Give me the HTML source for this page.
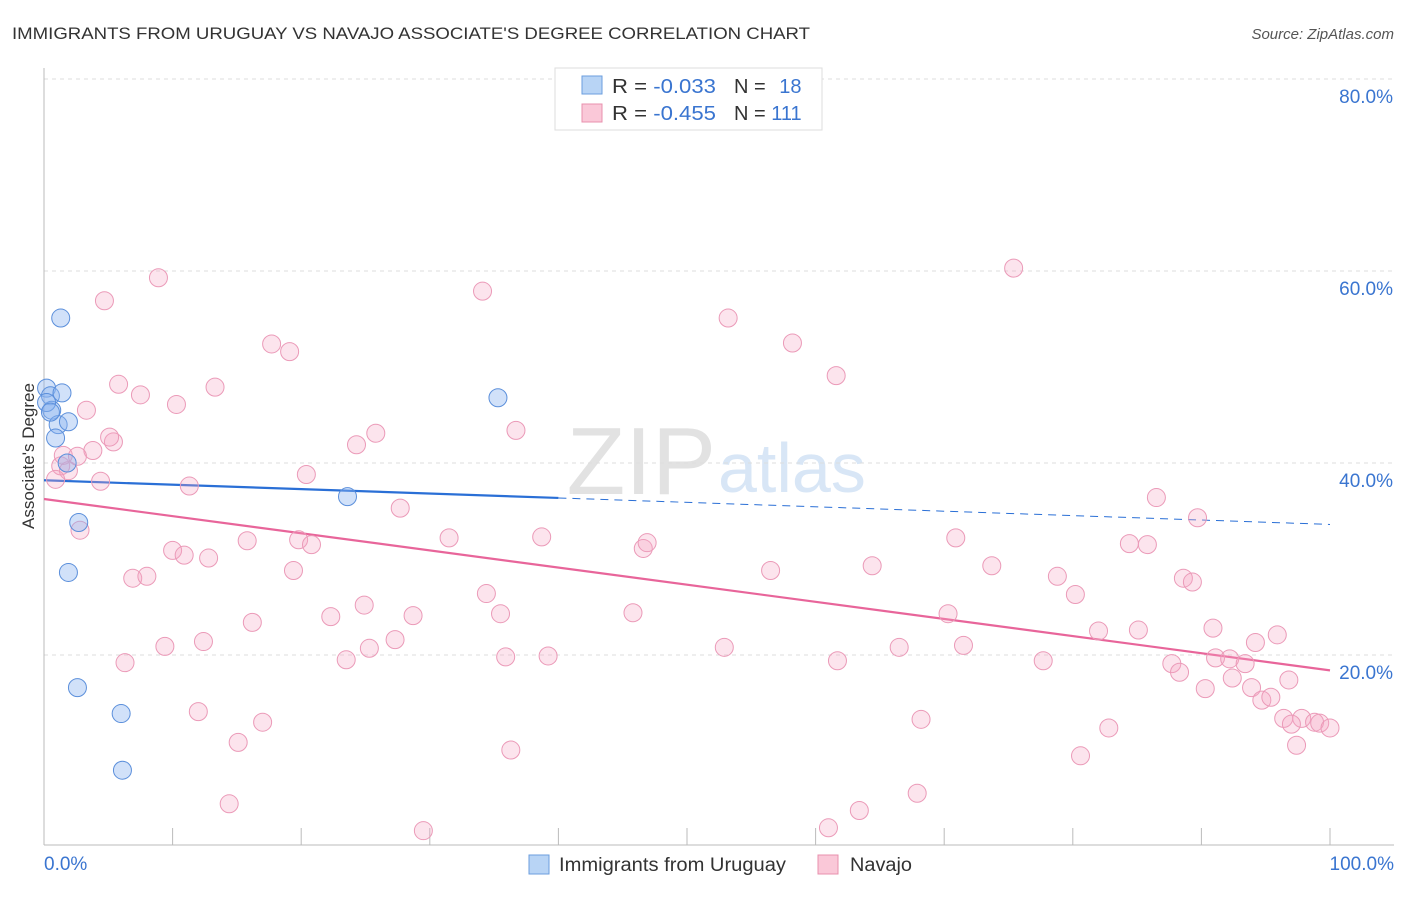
<!DOCTYPE html>
<html><head><meta charset="utf-8"><style>
body{margin:0;background:#fff;font-family:"Liberation Sans",sans-serif}
svg text{font-family:"Liberation Sans",sans-serif}
</style></head><body>
<svg id="chart" width="1406" height="892" xmlns="http://www.w3.org/2000/svg">
<text x="12" y="39" font-size="17" fill="#333" textLength="798" lengthAdjust="spacingAndGlyphs">IMMIGRANTS FROM URUGUAY VS NAVAJO ASSOCIATE'S DEGREE CORRELATION CHART</text>
<text x="1394" y="39" font-size="15" fill="#555" font-style="italic" text-anchor="end">Source: ZipAtlas.com</text>
<text x="716" y="494" font-size="96" fill="#e2e2e2" font-family="Liberation Serif" text-anchor="end">ZIP</text>
<text x="718" y="492" font-size="70" fill="#d8e6f6">atlas</text>
<g id="grid"></g><g id="axes"></g><g id="trends"></g><g id="pts"></g>
<text transform="translate(34,456) rotate(-90)" font-size="17" fill="#333" text-anchor="middle">Associate's Degree</text>
<g>
<rect x="555" y="68" width="267" height="62" fill="#fff" stroke="#ddd"/>
<rect x="582" y="76" width="20" height="18" fill="#b8d4f5" stroke="#6b9ede"/>
<rect x="582" y="104" width="20" height="18" fill="#fac8d8" stroke="#e890ae"/>
<text x="612" y="93" font-size="20" fill="#333" textLength="104" lengthAdjust="spacingAndGlyphs">R = <tspan fill="#3a75d0">-0.033</tspan></text>
<text x="734" y="93" font-size="20" fill="#333">N = <tspan fill="#3a75d0" dx="8">18</tspan></text>
<text x="612" y="120" font-size="20" fill="#333" textLength="104" lengthAdjust="spacingAndGlyphs">R = <tspan fill="#3a75d0">-0.455</tspan></text>
<text x="734" y="120" font-size="20" fill="#333">N = <tspan fill="#3a75d0">111</tspan></text>
</g>
<g>
<rect x="529" y="855" width="20" height="19" fill="#b8d4f5" stroke="#6b9ede"/>
<text x="559" y="871" font-size="19" fill="#333" textLength="227" lengthAdjust="spacingAndGlyphs">Immigrants from Uruguay</text>
<rect x="818" y="855" width="20" height="19" fill="#fac8d8" stroke="#e890ae"/>
<text x="850" y="871" font-size="19" fill="#333" textLength="62" lengthAdjust="spacingAndGlyphs">Navajo</text>
</g>
</svg>
<script>
const blueX=[0.2,0.5,0.6,0.2,1.4,1.1,1.9,0.9,1.8,2.7,1.9,1.3,35.3,23.6,2.6,6.0,6.1,0.5];
const blueY=[47.8,47.0,45.5,46.3,47.3,44.0,44.3,42.6,40.0,33.8,28.6,55.1,46.8,36.5,16.6,13.9,8.0,45.3];
const pinkX=[8.9,4.7,34.1,75.4,53.2,17.7,19.1,58.2,61.6,5.8,13.3,7.5,10.3,3.3,5.4,3.8,1.3,1.9,4.4,0.9,2.8,24.3,25.8,36.7,20.4,11.3,27.7,86.5,89.7,10.0,10.9,12.8,15.8,19.8,20.8,31.5,38.7,46.6,46.9,70.9,84.4,85.8,6.9,8.0,19.4,34.4,56.5,64.4,73.7,78.8,80.2,88.6,89.3,22.3,24.9,28.7,35.5,45.8,70.3,16.2,9.4,12.4,6.3,23.5,25.3,27.3,35.9,39.2,52.9,61.7,66.5,71.5,77.7,82.0,85.1,90.9,94.2,95.9,87.7,88.3,91.1,92.2,93.4,90.3,92.4,93.9,94.7,95.4,96.8,96.4,97.8,98.8,97.0,99.2,100,97.4,12.0,17.0,15.1,68.2,82.8,36.3,80.6,14.4,29.5,61.0,63.4,67.9,1.5,5.1,2.6];
const pinkY=[59.3,56.9,57.9,60.3,55.1,52.4,51.6,52.5,49.1,48.2,47.9,47.1,46.1,45.5,42.2,41.3,39.7,39.2,38.1,38.3,33.0,41.9,43.1,43.4,38.8,37.6,35.3,36.4,34.3,30.9,30.4,30.1,31.9,32.0,31.5,32.2,32.3,31.1,31.7,32.2,31.6,31.5,28.0,28.2,28.8,26.4,28.8,29.3,29.3,28.2,26.3,28.0,27.6,24.0,25.2,24.1,24.3,24.4,24.3,23.4,20.9,21.4,19.2,19.5,20.7,21.6,19.8,19.9,20.8,19.4,20.8,21.0,19.4,22.5,22.6,22.8,21.3,22.1,19.1,18.2,19.7,19.6,19.1,16.5,17.6,16.6,15.3,15.6,17.4,13.4,13.4,13.0,12.8,12.9,12.4,10.6,14.1,13.0,10.9,13.3,12.4,10.1,9.5,4.5,1.7,2.0,3.8,5.6,40.8,42.7,40.7];
const blueTrend=[38.2,33.6];
const pinkTrend=[36.25,18.4];
const yTicks=[20,40,60,80];
const xTickLabels=["0.0%","100.0%"];
const NS="http://www.w3.org/2000/svg";
const X=v=>44+v*12.86, Y=v=>847-v*9.6;
function mk(tag,at,parent){const e=document.createElementNS(NS,tag);for(const k in at)e.setAttribute(k,at[k]);document.getElementById(parent).appendChild(e);return e;}
yTicks.forEach(t=>{
 const l=mk('line',{x1:44,x2:1394,y1:Y(t),y2:Y(t),stroke:'#ddd','stroke-dasharray':'4,4'},'grid');
 
 
 const tx=mk('text',{x:1393,y:Y(t)+24,'font-size':19,fill:'#3a75d0','text-anchor':'end'},'grid');
 tx.textContent=t.toFixed(1)+'%';
 
 
});
mk('line',{x1:44,x2:44,y1:68,y2:845,stroke:'#bbb'},'axes');
mk('line',{x1:44,x2:1394,y1:845,y2:845,stroke:'#bbb'},'axes');
for(let i=0;i<=10;i++){const t=mk('line',{x1:X(i*10),x2:X(i*10),y1:828,y2:845,stroke:'#bbb'},'axes');
 
 }
[[0,'start',44],[100,'end',1394]].forEach((d,i)=>{const t=mk('text',{x:d[2],y:870,'font-size':19,fill:'#3a75d0','text-anchor':d[1]},'axes');t.textContent=xTickLabels[i];
 
 });
const bAt=x=>blueTrend[0]+(blueTrend[1]-blueTrend[0])*x/100;
let tl=mk('line',{x1:X(0),y1:Y(bAt(0)),x2:X(40),y2:Y(bAt(40)),stroke:'#2a6fd6','stroke-width':2.2},'trends');


tl=mk('line',{x1:X(40),y1:Y(bAt(40)),x2:X(100),y2:Y(bAt(100)),stroke:'#2a6fd6','stroke-width':1,'stroke-dasharray':'8,6'},'trends');


tl=mk('line',{x1:X(0),y1:Y(pinkTrend[0]),x2:X(100),y2:Y(pinkTrend[1]),stroke:'#e8659a','stroke-width':2.2},'trends');


pinkX.forEach((x,i)=>{const c=mk('circle',{cx:X(x),cy:Y(pinkY[i]),r:9,fill:'rgba(245,165,195,0.3)',stroke:'#eb9ab8','stroke-width':1},'pts');
 
 });
blueX.forEach((x,i)=>{const c=mk('circle',{cx:X(x),cy:Y(blueY[i]),r:9,fill:'rgba(140,180,240,0.4)',stroke:'#5b8fdb','stroke-width':1},'pts');
 
 });
</script>
</body></html>
